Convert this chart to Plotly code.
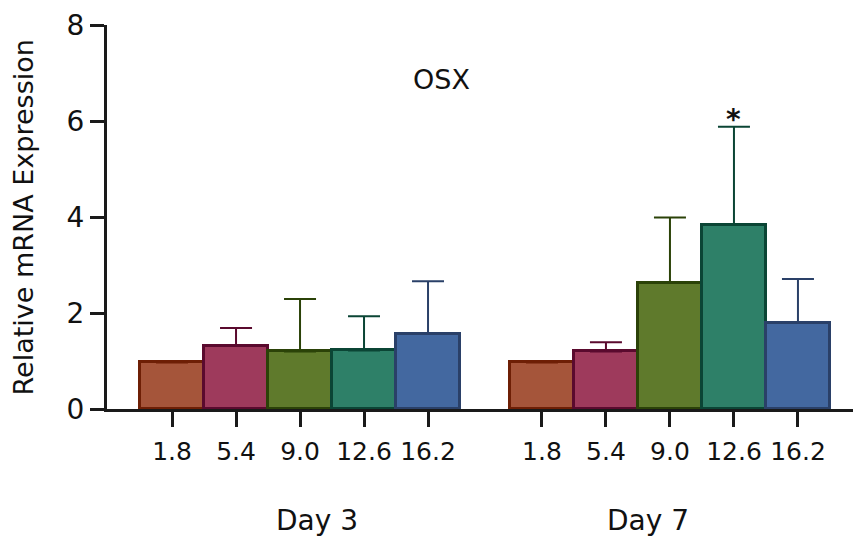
import plotly.graph_objects as go

days = ["Day 3", "Day 7"]
concs = ["1.8", "5.4", "9.0", "12.6", "16.2"]
day3_mean = [0.97, 1.31, 1.20, 1.22, 1.56]
day3_err = [0.0, 0.38, 1.09, 0.71, 1.10]
day7_mean = [0.97, 1.20, 2.63, 3.84, 1.79]
day7_err = [0.0, 0.19, 1.36, 2.04, 0.92]
sig_marks = [["", "", "", "", ""], ["", "", "", "*", ""]]

fills = ["#A5553A", "#9E3A5C", "#5F7A2C", "#2E8068", "#4368A0"]
borders = ["#6E1F05", "#5A0A2E", "#2B4208", "#0B4535", "#2A4068"]

FONT = "DejaVu Sans"
group_gap = 5.78
day_label_offset = [0.27, -0.34]
means = [day3_mean, day7_mean]
errs = [day3_err, day7_err]

fig = go.Figure()
tickvals, ticktext = [], []
for i, c in enumerate(concs):
    xs = [i + g * group_gap for g in range(len(days))]
    ys = [means[g][i] for g in range(len(days))]
    es = [errs[g][i] for g in range(len(days))]
    fig.add_trace(go.Bar(
        x=xs, y=ys, width=1.0,
        marker=dict(color=fills[i], line=dict(color=borders[i], width=3)),
        error_y=dict(type="data", array=es, arrayminus=[0] * len(es), symmetric=False,
                     color=borders[i], thickness=2, width=16, visible=True),
        showlegend=False, name=c,
    ))
for g in range(len(days)):
    for i, c in enumerate(concs):
        tickvals.append(i + g * group_gap)
        ticktext.append(c)
        if sig_marks[g][i]:
            fig.add_annotation(x=i + g * group_gap, y=means[g][i] + errs[g][i],
                               text="<b>" + sig_marks[g][i] + "</b>", showarrow=False,
                               yanchor="bottom", yshift=-11,
                               font=dict(family=FONT, size=28, color="#111"))
    fig.add_annotation(x=2 + g * group_gap + day_label_offset[g], y=-0.29, xref="x", yref="paper",
                       text=days[g], showarrow=False, yanchor="middle",
                       font=dict(family=FONT, size=28, color="#111"))

fig.add_annotation(x=0.449, y=0.857, xref="paper", yref="paper", text="OSX",
                   showarrow=False, xanchor="center", yanchor="middle",
                   font=dict(family=FONT, size=27, color="#111"))
fig.add_annotation(x=-0.112, y=0.5, xref="paper", yref="paper", text="Relative mRNA Expression",
                   textangle=-90, showarrow=False, xanchor="center", yanchor="middle",
                   font=dict(family=FONT, size=27, color="#111"))

fig.update_layout(
    width=853, height=537,
    margin=dict(l=107, r=0, t=25, b=128),
    plot_bgcolor="white", paper_bgcolor="white",
    barmode="overlay", bargap=0,
    font=dict(family=FONT, color="#111"),
)
fig.update_xaxes(range=[-1.016, 10.64], tickvals=tickvals, ticktext=ticktext,
                 showline=True, linecolor="#1a1a1a", linewidth=3,
                 ticks="outside", ticklen=15, tickwidth=3, tickcolor="#1a1a1a",
                 showgrid=False, zeroline=False, tickfont=dict(family=FONT, size=25, color="#111"),
                 ticklabelstandoff=3)
fig.update_yaxes(range=[0, 8], tickvals=[0, 2, 4, 6, 8],
                 showline=True, linecolor="#1a1a1a", linewidth=3,
                 ticks="outside", ticklen=14, tickwidth=3, tickcolor="#1a1a1a",
                 showgrid=False, zeroline=False, tickfont=dict(family=FONT, size=28, color="#111"))

fig.write_html("out.html")
